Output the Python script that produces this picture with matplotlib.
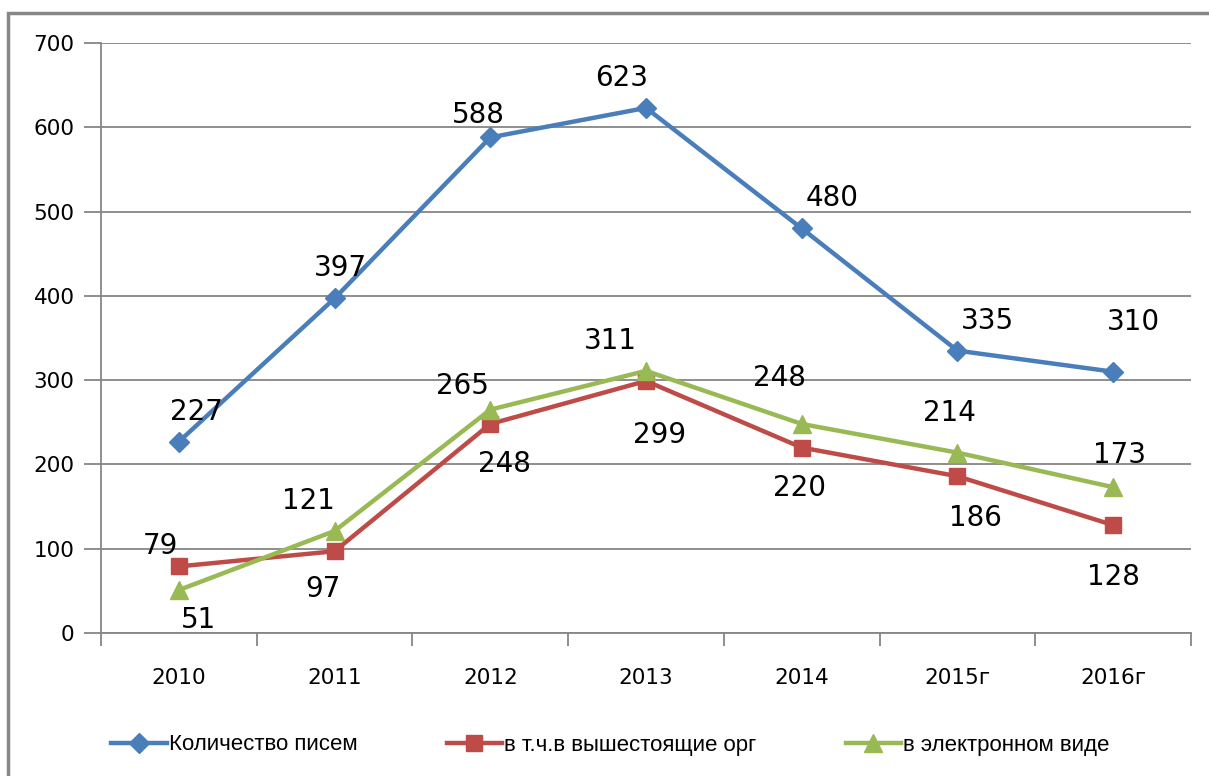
import matplotlib
matplotlib.use("Agg")
import matplotlib.pyplot as plt
from matplotlib.patches import Rectangle
from matplotlib.lines import Line2D

# data
years = ["2010", "2011", "2012", "2013", "2014", "2015г", "2016г"]
letters_total = [227, 397, 588, 623, 480, 335, 310]
letters_higher = [79, 97, 248, 299, 220, 186, 128]
letters_electronic = [51, 121, 265, 311, 248, 214, 173]

names = ["Количество писем", "в т.ч.в вышестоящие орг", "в электронном виде"]

# label offsets in pixels (dx, dy) for each series
offs_total = [(18, 30), (6, 30), (-12, 22), (-24, 30), (30, 30), (30, 30), (20, 50)]
offs_higher = [(-18, 20), (-12, -38), (14, -40), (14, -54), (-2, -40), (18, -42), (0, -52)]
offs_electronic = [(20, -30), (-26, 30), (-28, 24), (-36, 30), (-22, 46), (-8, 40), (6, 32)]

BLUE = "#4A7EBB"
RED = "#BE4B48"
GREEN = "#98B954"
GRID = "#868686"


def main():
    fig = plt.figure(figsize=(12.09, 7.76), dpi=100)
    ax = fig.add_axes([101 / 1209, 1 - 633 / 776, 1090 / 1209, 590 / 776])

    x = list(range(len(years)))
    series = [
        (letters_total, BLUE, "D", 10, offs_total),
        (letters_higher, RED, "s", 12, offs_higher),
        (letters_electronic, GREEN, "^", 13, offs_electronic),
    ]
    handles = []
    for (vals, col, mk, ms, offs), name in zip(series, names):
        (ln,) = ax.plot(x, vals, color=col, lw=3.2, marker=mk, ms=ms, zorder=3)
        handles.append(ln)
        for xi, v, (dx, dy) in zip(x, vals, offs):
            ax.annotate(str(v), (xi, v), xytext=(dx, dy), textcoords="offset pixels",
                        ha="center", va="center", fontsize=20, color="black")

    ax.set_xlim(-0.5, len(years) - 0.5)
    ax.set_ylim(0, 700)
    ax.set_yticks(range(0, 701, 100))
    ax.yaxis.grid(True, color=GRID, lw=1.3)
    ax.set_axisbelow(True)

    ax.set_xticks(x)
    ax.set_xticklabels(years)
    ax.set_xticks([i - 0.5 for i in range(len(years) + 1)], minor=True)
    ax.tick_params(axis="x", which="major", length=0, pad=25, labelsize=15.5)
    ax.tick_params(axis="x", which="minor", length=9, color=GRID, width=1.3)
    ax.tick_params(axis="y", length=12, color=GRID, width=1.3, pad=7, labelsize=15.5)

    for s in ["top", "right"]:
        ax.spines[s].set_visible(False)
    for s in ["left", "bottom"]:
        ax.spines[s].set_color(GRID)
        ax.spines[s].set_linewidth(1.3)

    # legend
    leg_handles = [Line2D([], [], color=h.get_color(), lw=3.2, marker=h.get_marker(),
                          ms=h.get_markersize()) for h in handles]
    fig.legend(leg_handles, names, loc="center", bbox_to_anchor=(0.505, 1 - 745 / 776),
               ncol=3, frameon=False, handlelength=2.5, handletextpad=0.1,
               columnspacing=4.0,
               prop={"family": ["Liberation Sans Narrow", "Liberation Sans", "DejaVu Sans"],
                     "size": 16})

    # outer chart frame
    fig.patches.append(Rectangle((8 / 1209, -0.1), 1.2, 1.1 - 13 / 776,
                                 transform=fig.transFigure, fill=False,
                                 edgecolor="#878787", lw=2.5))

    fig.savefig("out.png", dpi=100)


if __name__ == "__main__":
    main()
